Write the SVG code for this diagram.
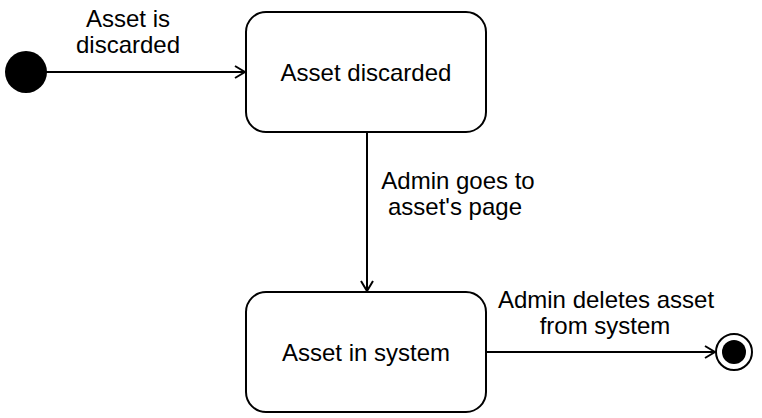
<svg xmlns="http://www.w3.org/2000/svg" width="762" height="418" viewBox="0 0 762 418">
<style>
.state{fill:#fff;stroke:#000;stroke-width:2}
.lbl{font-family:"Liberation Sans",Arial,sans-serif;font-size:24px;fill:#000;text-anchor:middle}
.edge{fill:none;stroke:#000;stroke-width:2}
</style>
<defs>
<marker id="open" viewBox="0 0 12 14" refX="11" refY="7" markerWidth="12" markerHeight="14" markerUnits="userSpaceOnUse" orient="auto">
<path d="M1,1 L11,7 L1,13" fill="none" stroke="#000" stroke-width="2"/>
</marker>
</defs>
<rect width="762" height="418" fill="#fff"/>
<g id="edges">
<g id="e1"><line class="edge" x1="46" y1="72" x2="245" y2="72" marker-end="url(#open)"/>
<text class="lbl" x="128" y="27">Asset is</text><text class="lbl" x="128" y="53">discarded</text></g>
<g id="e2"><line class="edge" x1="367" y1="132" x2="367" y2="291" marker-end="url(#open)"/>
<text class="lbl" x="458" y="189">Admin goes to</text><text class="lbl" x="455" y="215">asset's page</text></g>
<g id="e3"><line class="edge" x1="487" y1="352" x2="715" y2="352" marker-end="url(#open)"/>
<text class="lbl" x="606" y="308">Admin deletes asset</text><text class="lbl" x="605" y="334">from system</text></g>
</g>
<g id="start"><circle cx="26" cy="72" r="21" fill="#000"/></g>
<g id="asset-discarded"><rect class="state" x="246" y="12" width="240" height="120" rx="20"/>
<text class="lbl" x="366" y="81">Asset discarded</text></g>
<g id="asset-in-system"><rect class="state" x="246" y="292" width="240" height="120" rx="20"/>
<text class="lbl" x="366" y="361">Asset in system</text></g>
<g id="end"><circle cx="734" cy="352" r="18" fill="#fff" stroke="#000" stroke-width="2"/><circle cx="734" cy="352" r="12" fill="#000"/></g>
</svg>
